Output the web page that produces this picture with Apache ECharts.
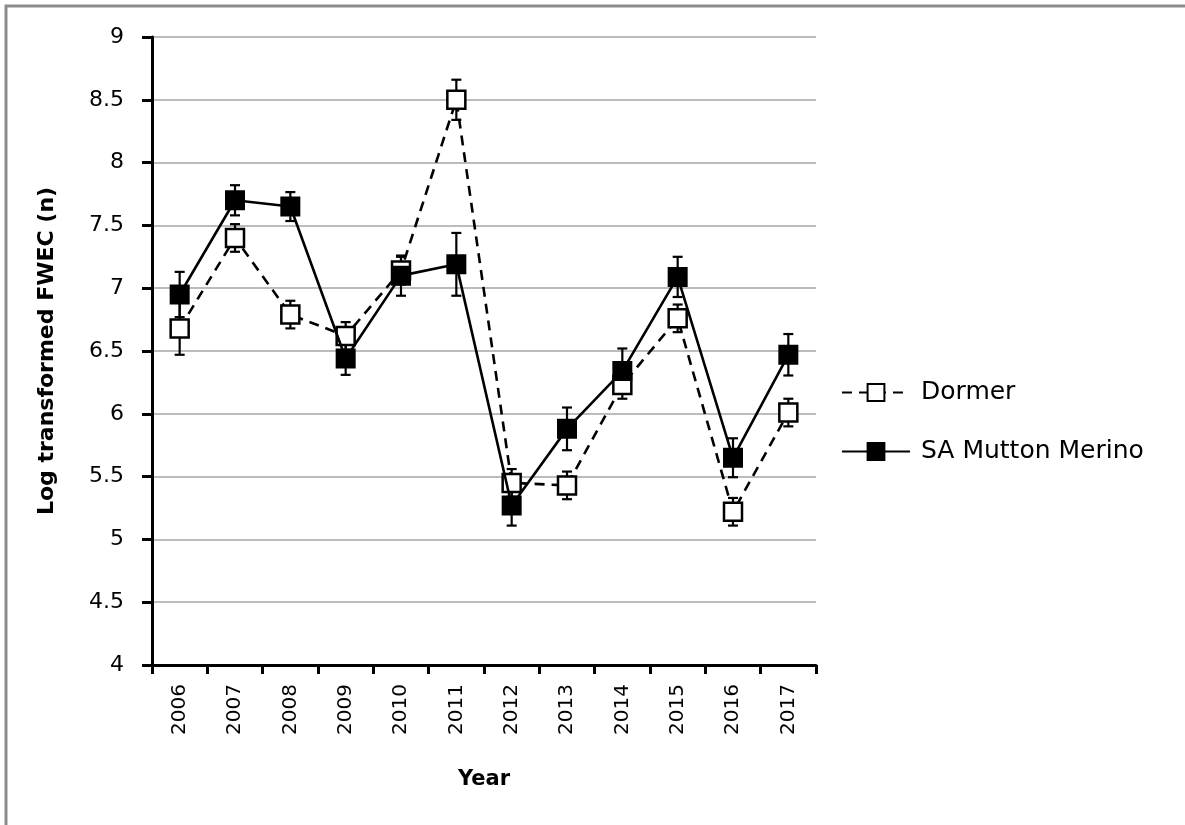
<!DOCTYPE html>
<html>
<head>
<meta charset="utf-8">
<script src="https://cdn.jsdelivr.net/npm/echarts@6/dist/echarts.min.js"></script>
<style>
  html, body { margin: 0; padding: 0; background: #ffffff; }
  #chart { width: 1185px; height: 825px; }
</style>
</head>
<body>
<div id="chart"></div>
<script>
// Years on the category axis
const years = ['2006', '2007', '2008', '2009', '2010', '2011', '2012', '2013', '2014', '2015', '2016', '2017'];

// Dormer: mean log-transformed FWEC and its error (±)
const dormerMean = [6.68, 7.40, 6.79, 6.62, 7.14, 8.50, 5.45, 5.43, 6.23, 6.76, 5.22, 6.01];
const dormerErr  = [0.21, 0.11, 0.11, 0.11, 0.11, 0.16, 0.11, 0.11, 0.11, 0.11, 0.11, 0.11];

// SA Mutton Merino: mean log-transformed FWEC and its error (±)
const saMean = [6.95, 7.70, 7.65, 6.44, 7.10, 7.19, 5.27, 5.88, 6.34, 7.09, 5.65, 6.47];
const saErr  = [0.18, 0.12, 0.115, 0.13, 0.16, 0.25, 0.16, 0.17, 0.18, 0.16, 0.155, 0.165];

// Y-axis range and step
const yMin = 4, yMax = 9, yStep = 0.5;

const chart = echarts.init(document.getElementById('chart'), null, { renderer: 'canvas' });

// Vertical error bar with caps at each point
function errorBarItem(params, api) {
  const i = api.value(0);
  const mean = api.value(1);
  const err = api.value(2);
  const top = api.coord([i, mean + err]);
  const bot = api.coord([i, mean - err]);
  const cap = 5;
  const style = { stroke: '#000000', lineWidth: 2.2 };
  return {
    type: 'group',
    children: [
      { type: 'line', shape: { x1: top[0], y1: top[1], x2: bot[0], y2: bot[1] }, style },
      { type: 'line', shape: { x1: top[0] - cap, y1: top[1], x2: top[0] + cap, y2: top[1] }, style },
      { type: 'line', shape: { x1: bot[0] - cap, y1: bot[1], x2: bot[0] + cap, y2: bot[1] }, style }
    ]
  };
}

const dormerBars = years.map((y, i) => [i, dormerMean[i], dormerErr[i]]);
const saBars = years.map((y, i) => [i, saMean[i], saErr[i]]);

const tickFont = 'DejaVu Sans';

chart.setOption({
  animation: false,
  backgroundColor: '#ffffff',
  graphic: [
    {
      type: 'rect',
      shape: { x: 6, y: 6, width: 1300, height: 1000 },
      style: { fill: 'none', stroke: '#8c8c8c', lineWidth: 3 },
      silent: true
    }
  ],
  grid: { left: 152, top: 37, right: 369, bottom: 160, containLabel: false },
  legend: {
    orient: 'vertical',
    left: 836,
    top: 375,
    itemGap: 34,
    itemWidth: 68,
    itemHeight: 21,
    textStyle: { fontFamily: tickFont, fontSize: 25, color: '#000000', padding: [0, 0, 0, 6] },
    data: ['Dormer', 'SA Mutton Merino']
  },
  xAxis: {
    type: 'category',
    data: years,
    boundaryGap: true,
    name: 'Year',
    nameLocation: 'middle',
    nameGap: 104,
    nameTextStyle: { fontFamily: tickFont, fontWeight: 'bold', fontSize: 21, color: '#000000' },
    axisLine: { lineStyle: { color: '#000000', width: 3 } },
    axisTick: { show: true, interval: 0, length: 9, lineStyle: { color: '#000000', width: 3 } },
    axisLabel: { rotate: 90, interval: 0, margin: 19, fontFamily: tickFont, fontSize: 20, color: '#000000' },
    splitLine: { show: false }
  },
  yAxis: {
    type: 'value',
    min: yMin,
    max: yMax,
    interval: yStep,
    name: 'Log transformed FWEC (n)',
    nameLocation: 'middle',
    nameGap: 94,
    nameTextStyle: { fontFamily: tickFont, fontWeight: 'bold', fontSize: 22, color: '#000000' },
    axisLine: { show: true, lineStyle: { color: '#000000', width: 3 } },
    axisTick: { show: true, length: 10, lineStyle: { color: '#000000', width: 3 } },
    axisLabel: { margin: 28, fontFamily: tickFont, fontSize: 22, color: '#000000' },
    splitLine: { show: true, lineStyle: { color: '#a6a6a6', width: 1.5 } }
  },
  series: [
    {
      name: 'Dormer-err',
      type: 'custom',
      renderItem: errorBarItem,
      data: dormerBars,
      z: 2,
      silent: true
    },
    {
      name: 'SA Mutton Merino-err',
      type: 'custom',
      renderItem: errorBarItem,
      data: saBars,
      z: 2,
      silent: true
    },
    {
      name: 'Dormer',
      type: 'line',
      data: dormerMean,
      symbol: 'rect',
      symbolSize: 18,
      showAllSymbol: true,
      z: 3,
      lineStyle: { color: '#000000', width: 2.6, type: [10, 7] },
      itemStyle: { color: '#ffffff', borderColor: '#000000', borderWidth: 2.5 }
    },
    {
      name: 'SA Mutton Merino',
      type: 'line',
      data: saMean,
      symbol: 'rect',
      symbolSize: 18,
      showAllSymbol: true,
      z: 4,
      lineStyle: { color: '#000000', width: 2.6, type: 'solid' },
      itemStyle: { color: '#000000', borderColor: '#000000', borderWidth: 2 }
    }
  ]
});
</script>
</body>
</html>
